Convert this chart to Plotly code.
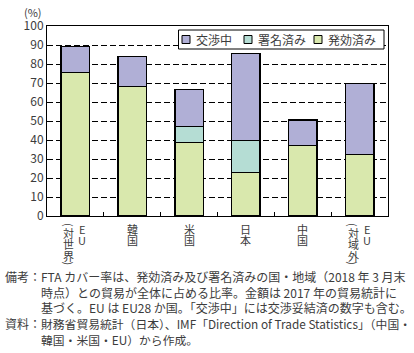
import plotly.graph_objects as go

# ---------------- data ----------------
categories = ["EU（対世界）", "韓国", "米国", "日本", "中国", "EU（対域外）"]
# vertical tick label columns (read right-to-left)
label_columns = [["EU", "（対世界）"], ["韓国"], ["米国"], ["日本"], ["中国"], ["EU", "（対域外）"]]

series_names = ["発効済み", "署名済み", "交渉中"]
effective = [75.6, 68.2, 38.8, 23.0, 37.2, 32.4]
signed = [0, 0, 8.4, 16.8, 0, 0]
negotiating = [13.7, 15.8, 19.5, 45.8, 13.2, 37.3]
series_values = [effective, signed, negotiating]
series_colors = ["#D9E8AD", "#B5DDD4", "#B0AFD6"]

y_ticks = [0, 10, 20, 30, 40, 50, 60, 70, 80, 90, 100]
y_unit = "(%)"

legend_order = ["交渉中", "署名済み", "発効済み"]

notes = [
    ("備考：", ["FTA カバー率は、発効済み及び署名済みの国・地域（2018 年 3 月末",
              "時点）との貿易が全体に占める比率。金額は 2017 年の貿易統計に",
              "基づく。EU は EU28 か国。「交渉中」には交渉妥結済の数字も含む。"]),
    ("資料：", ["財務省貿易統計（日本）、IMF「Direction of Trade Statistics」（中国・",
              "韓国・米国・EU）から作成。"]),
]
note_sizes = [12, 11.8]

# ---------------- layout geometry ----------------
W, H = 414, 353
L, R, T, B = 47, 26, 26, 137
PW, PH = W - L - R, H - T - B
FONT = "Noto Sans CJK JP"
TXT = "#3C3C3C"


def px_x(px):
    return (px - L) / PW


def px_y(py):
    return (H - B - py) / PH


fig = go.Figure()
for name, vals, col in zip(series_names, series_values, series_colors):
    fig.add_trace(go.Bar(
        x=categories, y=vals, name=name,
        marker=dict(color=col, line=dict(color="black", width=1.5)),
        showlegend=False,
    ))

annotations = []
shapes = []

# vertical category labels
for cat, cols in zip(categories, label_columns):
    offsets = [0] if len(cols) == 1 else [7, -6.5]
    for col_text, off in zip(cols, offsets):
        y = 223.0
        for ch in col_text:
            if ch in "（）":
                c = y + 2
                adv = 4.5
                annotations.append(dict(
                    x=cat, xref="x", y=px_y(c), yref="paper", xshift=off,
                    text="(" if ch == "（" else ")", textangle=90, showarrow=False,
                    xanchor="center", yanchor="middle",
                    font=dict(family=FONT, size=11, color=TXT)))
            else:
                c = y + 5.5
                adv = 11.3
                annotations.append(dict(
                    x=cat, xref="x", y=px_y(c), yref="paper", xshift=off,
                    text=ch, showarrow=False, xanchor="center", yanchor="middle",
                    font=dict(family=FONT, size=11, color=TXT)))
            y += adv

# unit label
annotations.append(dict(x=px_x(44), xref="paper", y=px_y(12), yref="paper",
                        text=y_unit, showarrow=False, xanchor="right", yanchor="middle",
                        font=dict(family=FONT, size=11, color=TXT)))

# legend (drawn as a boxed key)
lg_left, lg_right, lg_top, lg_bot = 178.5, 384, 30, 49
shapes.append(dict(type="rect", xref="paper", yref="paper",
                   x0=px_x(lg_left), x1=px_x(lg_right), y0=px_y(lg_bot), y1=px_y(lg_top),
                   fillcolor="white", line=dict(color="black", width=1), layer="above"))
lg_cy = (lg_top + lg_bot) / 2
sw_x = [182, 244, 314]
for name, sx in zip(legend_order, sw_x):
    col = series_colors[series_names.index(name)]
    shapes.append(dict(type="rect", xref="paper", yref="paper",
                       x0=px_x(sx), x1=px_x(sx + 8), y0=px_y(lg_cy + 4), y1=px_y(lg_cy - 4),
                       fillcolor=col, line=dict(color="black", width=1), layer="above"))
    annotations.append(dict(x=px_x(sx + 12), xref="paper", y=px_y(lg_cy), yref="paper",
                            text=name, showarrow=False, xanchor="left", yanchor="middle",
                            font=dict(family=FONT, size=12, color=TXT)))

# notes
line_y = 276.7
for (head, lines), fs in zip(notes, note_sizes):
    annotations.append(dict(x=px_x(2.5), xref="paper", y=px_y(line_y), yref="paper",
                            text=head, showarrow=False, xanchor="left", yanchor="middle",
                            font=dict(family=FONT, size=12, color=TXT)))
    for ln in lines:
        annotations.append(dict(x=px_x(38.8), xref="paper", y=px_y(line_y), yref="paper",
                                text=ln, showarrow=False, xanchor="left", yanchor="middle",
                                font=dict(family=FONT, size=fs, color=TXT)))
        line_y += 15.6

fig.update_layout(
    width=W, height=H,
    margin=dict(l=L, r=R, t=T, b=B, pad=0),
    barmode="stack", bargap=0.5,
    plot_bgcolor="white", paper_bgcolor="white",
    font=dict(family=FONT, size=12, color=TXT),
    annotations=annotations, shapes=shapes,
    xaxis=dict(showticklabels=False, showline=True, mirror=True, linecolor="black",
               linewidth=1, ticks="inside", ticklen=4, tickcolor="black",
               tickson="boundaries", showgrid=False, fixedrange=True),
    yaxis=dict(range=[0, 100], tickvals=y_ticks, showline=True, mirror=True,
               linecolor="black", linewidth=1, showgrid=True, gridcolor="black",
               gridwidth=1, griddash="6px,3px", ticks="", zeroline=False,
               tickfont=dict(family=FONT, size=12, color=TXT), fixedrange=True),
)

fig.write_html("out.html")
